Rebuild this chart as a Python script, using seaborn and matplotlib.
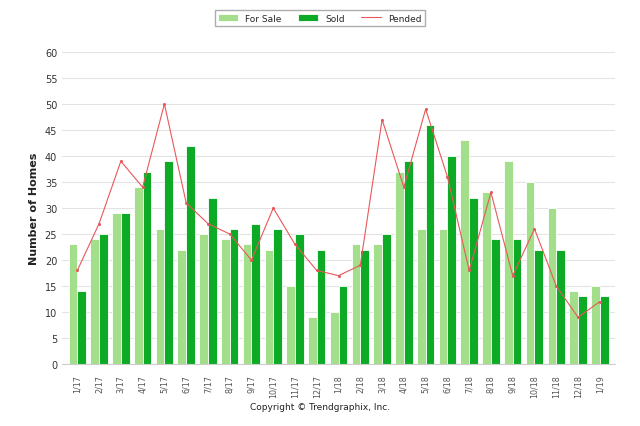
import pandas as pd
import matplotlib.pyplot as plt
from matplotlib.lines import Line2D
import seaborn as sns

months = ['1/17', '2/17', '3/17', '4/17', '5/17', '6/17', '7/17', '8/17', '9/17',
          '10/17', '11/17', '12/17', '1/18', '2/18', '3/18', '4/18', '5/18', '6/18',
          '7/18', '8/18', '9/18', '10/18', '11/18', '12/18', '1/19']
for_sale = [23, 24, 29, 34, 26, 22, 25, 24, 23, 22, 15, 9, 10, 23, 23, 37, 26, 26,
            43, 33, 39, 35, 30, 14, 15]
sold = [14, 25, 29, 37, 39, 42, 32, 26, 27, 26, 25, 22, 15, 22, 25, 39, 46, 40,
        32, 24, 24, 22, 22, 13, 13]
pended = [18, 27, 39, 34, 50, 31, 27, 25, 20, 30, 23, 18, 17, 19, 47, 34, 49, 36,
          18, 33, 17, 26, 15, 9, 12]

bars = pd.DataFrame({'Month': months * 2,
                     'Homes': for_sale + sold,
                     'Type': ['For Sale'] * len(months) + ['Sold'] * len(months)})
line = pd.DataFrame({'Month': months, 'Homes': pended})

sns.set_style('white')
fig = plt.figure(figsize=(6.4, 4.27), dpi=100)
ax = fig.add_axes([0.097, 0.145, 0.864, 0.731])

sns.barplot(data=bars, x='Month', y='Homes', hue='Type',
            palette={'For Sale': '#a3df8b', 'Sold': '#0daa26'}, saturation=1,
            width=0.8, edgecolor='white', linewidth=0.6, ax=ax)
sns.lineplot(data=line, x='Month', y='Homes', color='#e8585a', linewidth=0.8,
             marker='o', markersize=2.2, markeredgewidth=0, label='Pended', ax=ax)

ax.set_ylim(0, 60)
ax.set_yticks(range(0, 61, 5))
ax.set_xlim(-0.7, len(months) - 0.3)
ax.yaxis.grid(True, color='#e3e3e3', linewidth=0.8)
ax.set_axisbelow(True)
for s in ['top', 'right', 'left']:
    ax.spines[s].set_visible(False)
ax.spines['bottom'].set_color('#cccccc')
ax.tick_params(axis='x', rotation=90, labelsize=5.8, colors='#555555', length=0, pad=7)
ax.tick_params(axis='y', labelsize=7, colors='#333333', length=0)
ax.set_xlabel('')
ax.set_ylabel('Number of Homes', fontsize=8, fontweight='bold', color='#222222')

handles, labels = ax.get_legend_handles_labels()
ax.get_legend().remove()
handles[-1] = Line2D([], [], color='#e8585a', linewidth=0.8)
fig.legend(handles, labels, loc='upper center', bbox_to_anchor=(0.5, 0.985), ncol=3,
           fontsize=6.5, frameon=True, fancybox=False, edgecolor='#999999',
           handlelength=2.2, columnspacing=1.8)

fig.text(0.5, 0.04, 'Copyright \u00a9 Trendgraphix, Inc.', ha='center', fontsize=6.5,
         color='#222222')

plt.savefig('out.png', dpi=100)
